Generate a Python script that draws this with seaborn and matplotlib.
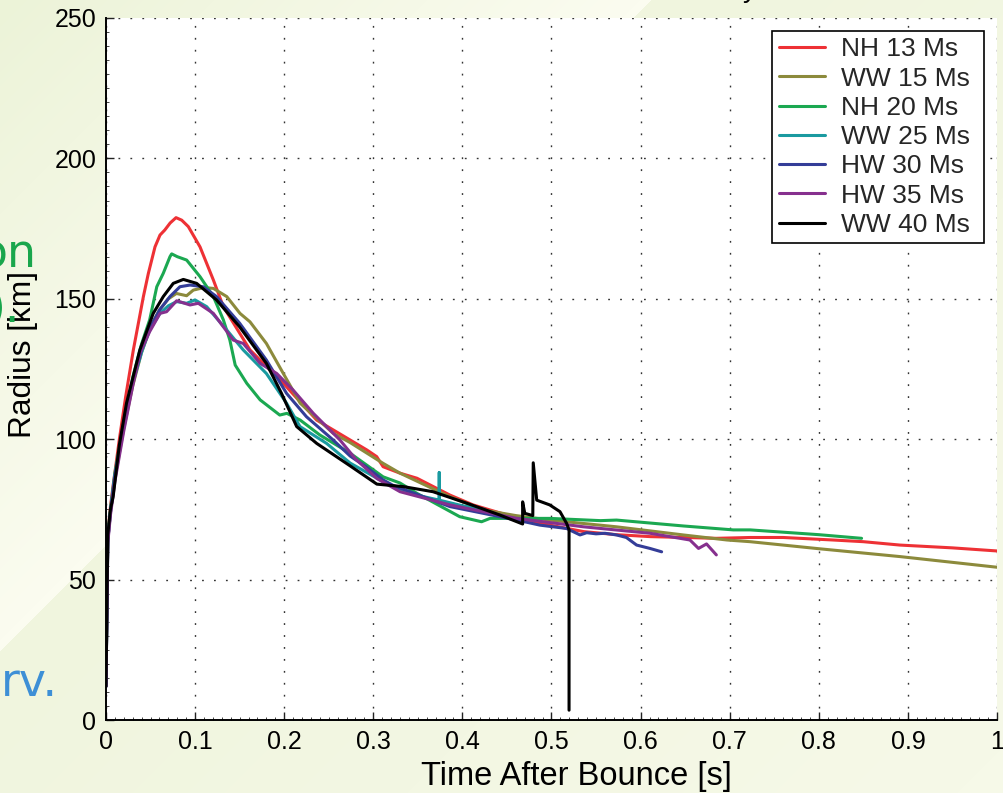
import numpy as np
import pandas as pd
import matplotlib
matplotlib.use("Agg")
import matplotlib.pyplot as plt
import seaborn as sns

# ---------------- data ----------------
names = ["NH 13 Ms", "WW 15 Ms", "NH 20 Ms", "WW 25 Ms", "HW 30 Ms", "HW 35 Ms", "WW 40 Ms"]
colors = ["#ee3135", "#8c8a3c", "#1ba851", "#1a9aa0", "#343d98", "#86308e", "#000000"]

t_nh13 = [0, 0.002, 0.005, 0.0082, 0.015, 0.022, 0.0307, 0.0419, 0.0475, 0.055, 0.0606, 0.066, 0.072, 0.0786,
          0.085, 0.0924, 0.1055, 0.1205, 0.1317, 0.1616, 0.199, 0.2365, 0.2926, 0.3038, 0.311, 0.33, 0.349,
          0.386, 0.412, 0.45, 0.498, 0.536, 0.573, 0.611, 0.65, 0.685, 0.723, 0.76, 0.816, 0.85, 0.891, 0.95, 1.0]
r_nh13 = [14, 66, 76, 84, 100, 115, 131.8, 150.7, 159, 168.5, 172.7, 174.5, 177, 178.9,
          178, 175.7, 168.5, 156.7, 147.2, 131.8, 119.9, 106.8, 96.2, 93.8, 90.2, 87.9, 86.1,
          80.1, 76.6, 73, 69.4, 67.1, 66, 65.3, 65, 64.7, 65, 65, 64.1, 63.5, 62.3, 61.3, 60.2]

t_ww15 = [0, 0.002, 0.005, 0.01, 0.02, 0.03, 0.04, 0.05, 0.06, 0.07, 0.079, 0.0905, 0.098, 0.11, 0.1205,
          0.1355, 0.1504, 0.1616, 0.18, 0.199, 0.218, 0.255, 0.274, 0.293, 0.311, 0.33, 0.386, 0.4235,
          0.46, 0.498, 0.573, 0.648, 0.697, 0.723, 0.8, 0.891, 1.0]
r_ww15 = [12, 64, 74, 86, 104, 119, 131, 140, 146, 150, 151.9, 151.1, 153.1, 154, 153.7,
          150.8, 144.8, 141.8, 134.1, 123.4, 112.8, 102.1, 98.8, 95, 91.4, 87.9, 79.5, 74.8,
          72.8, 71.2, 68.8, 65.9, 64.1, 63.5, 61, 58.2, 54.4]

t_nh20 = [0, 0.002, 0.005, 0.01, 0.02, 0.03, 0.04, 0.049, 0.057, 0.0643, 0.0718, 0.0737, 0.08, 0.0905,
          0.1055, 0.1205, 0.1317, 0.139, 0.145, 0.158, 0.173, 0.195, 0.203, 0.218, 0.24, 0.274, 0.311,
          0.33, 0.349, 0.397, 0.4215, 0.431, 0.498, 0.555, 0.573, 0.648, 0.704, 0.723, 0.8, 0.848]
r_nh20 = [13, 66, 75, 88, 106, 122, 134, 142.5, 154.3, 159.1, 165, 166, 165, 163.8,
          157.9, 150.8, 142.5, 135.3, 126.4, 119.9, 114, 108.6, 109.2, 106.8, 101.5, 95, 86.6,
          84.4, 80.7, 72.4, 70.6, 71.8, 71.8, 71, 71.2, 69.1, 67.7, 67.7, 66, 64.7]

t_ww25 = [0, 0.002, 0.005, 0.01, 0.02, 0.03, 0.04, 0.049, 0.0606, 0.07, 0.0793, 0.0905, 0.0999, 0.113,
          0.1355, 0.154, 0.18, 0.2027, 0.2177, 0.2476, 0.274, 0.3187, 0.35, 0.374, 0.374, 0.374, 0.4, 0.425]
r_ww25 = [12, 64, 74, 87, 105, 120, 131, 138.9, 144.8, 147.5, 149, 148.4, 149.6, 147.2,
          138.9, 131.8, 123.4, 112.8, 104.5, 98.5, 91.5, 83.5, 80, 78.3, 88.1, 78.3, 76.3, 75]

t_hw30 = [0, 0.002, 0.005, 0.01, 0.02, 0.03, 0.04, 0.05, 0.06, 0.0718, 0.083, 0.0943, 0.109, 0.124,
          0.15, 0.18, 0.2027, 0.225, 0.255, 0.274, 0.2926, 0.311, 0.3225, 0.386, 0.461, 0.487, 0.517,
          0.532, 0.5395, 0.55, 0.56, 0.573, 0.584, 0.5955, 0.6105, 0.6236]
r_hw30 = [12, 64, 74, 87, 105, 120, 132, 140, 146, 150.8, 154.3, 154.9, 154.3, 150.8,
          141.3, 128.2, 116.3, 108, 99.7, 94, 90, 85.5, 83.5, 76, 71.2, 69.4, 68.2,
          65.9, 66.7, 66.3, 66.5, 65.9, 65, 62.3, 61.1, 59.9]

t_hw35 = [0, 0.002, 0.005, 0.01, 0.02, 0.03, 0.038, 0.049, 0.0606, 0.068, 0.0793, 0.0943, 0.1036, 0.1205,
          0.1428, 0.154, 0.173, 0.1916, 0.21, 0.2327, 0.2626, 0.28, 0.304, 0.33, 0.386, 0.461, 0.536,
          0.6105, 0.6554, 0.665, 0.674, 0.685]
r_hw35 = [12, 63, 73, 85, 103, 119, 130.6, 138.3, 144.8, 145.4, 149.3, 147.8, 148.4, 144.8,
          135.3, 134.1, 127, 123.4, 117.5, 109.2, 99.7, 93, 86, 81.3, 76.6, 71.8, 68.8,
          66.5, 64.1, 61.1, 62.7, 58.8]

t_ww40 = [0, 0.002, 0.005, 0.008, 0.015, 0.023, 0.038, 0.053, 0.0643, 0.0755, 0.0868, 0.1017, 0.124,
          0.15, 0.18, 0.197, 0.214, 0.2365, 0.274, 0.304, 0.334, 0.367, 0.405, 0.442, 0.4676, 0.4676,
          0.470, 0.479, 0.4795, 0.4834, 0.498, 0.5095, 0.517, 0.5197, 0.5197]
r_ww40 = [12, 66, 75, 79.5, 98, 112.8, 131.8, 144.8, 150.8, 155.5, 156.9, 155.5, 149.6,
          140, 127, 116.3, 104.5, 98.5, 90.5, 84, 83.1, 81.3, 77.2, 73, 69.8, 77.7,
          73.6, 72.8, 91.6, 78.3, 76.6, 74.2, 70, 67.7, 3.5]

x_ticks = [0, 0.1, 0.2, 0.3, 0.4, 0.5, 0.6, 0.7, 0.8, 0.9, 1.0]
x_ticklabels = ["0", "0.1", "0.2", "0.3", "0.4", "0.5", "0.6", "0.7", "0.8", "0.9", "1"]
y_ticks = [0, 50, 100, 150, 200, 250]
y_ticklabels = ["0", "50", "100", "150", "200", "250"]

series_t = [t_nh13, t_ww15, t_nh20, t_ww25, t_hw30, t_hw35, t_ww40]
series_r = [r_nh13, r_ww15, r_nh20, r_ww25, r_hw30, r_hw35, r_ww40]

frames = []
for n, tt, rr in zip(names, series_t, series_r):
    frames.append(pd.DataFrame({"t": tt, "r": rr, "model": n, "order": np.arange(len(tt))}))
df = pd.concat(frames, ignore_index=True)

# ---------------- figure ----------------
sns.set_theme(style="white")
plt.rcParams["font.family"] = ["Liberation Sans", "DejaVu Sans"]

W, H = 1004, 793
fig = plt.figure(figsize=(W / 100, H / 100), dpi=100)

# slide background gradient
bg = fig.add_axes([0, 0, 1, 1], zorder=-5)
yy, xx = np.mgrid[0:H, 0:W]
s = xx + yy
dark = np.array([236, 243, 216]) / 255.0
light = np.array([251, 252, 240]) / 255.0
mid = np.array([240, 245, 222]) / 255.0
f1 = np.clip(s / 640.0, 0, 1)[..., None]
img = dark * (1 - f1) + light * f1
f2 = np.clip((s - 650) / 1100.0, 0, 1)[..., None]
img2 = mid * (1 - f2) + np.array([246, 249, 232]) / 255.0 * f2
img = np.where((s > 650)[..., None], img2, img)
bg.imshow(img, aspect="auto", extent=[0, 1, 0, 1], origin="upper")
bg.set_axis_off()

# slide text fragments at left edge
fig.text(36 / W, 1 - 268 / H, "on", color="#19a64c", fontsize=33, ha="right", va="baseline",
         family=["DejaVu Sans"])
fig.text(20 / W, 1 - 322 / H, ").", color="#19a64c", fontsize=33, ha="right", va="baseline",
         family=["DejaVu Sans"])
fig.text(58 / W, 1 - 696 / H, "rv.", color="#3d8fd6", fontsize=33, ha="right", va="baseline",
         family=["DejaVu Sans"])
fig.text(757 / W, 1 + 3 / H, "y", color="black", fontsize=20, ha="right", va="baseline")

ax = fig.add_axes([106 / W, 1 - 720 / H, 891 / W, 702 / H])
ax.set_facecolor("white")

for n, c in zip(names, colors):
    sub = df[df["model"] == n]
    sns.lineplot(data=sub, x="t", y="r", color=c, lw=2.2, sort=False, estimator=None,
                 ax=ax, label=n, legend=False)

ax.set_xlim(0, 1)
ax.set_ylim(0, 250)
ax.set_xticks(x_ticks)
ax.set_xticklabels(x_ticklabels)
ax.set_yticks(y_ticks)
ax.set_yticklabels(y_ticklabels)
ax.set_xticks(np.arange(0, 1.0001, 0.01), minor=True)
ax.set_yticks(np.arange(0, 250.001, 5), minor=True)

ax.grid(True, which="major", color="#333333", linestyle=(0, (1.3, 7.3)), linewidth=1.0)
ax.tick_params(which="major", direction="in", length=6, width=1, color="#222222",
               labelsize=18, pad=7, labelcolor="black")
ax.tick_params(which="minor", direction="in", length=2.2, width=0.7, color="#444444")
ax.tick_params(axis="x", which="both", top=False, bottom=True)
ax.tick_params(axis="y", which="both", right=False, left=True)

for side in ["top", "right"]:
    ax.spines[side].set_visible(False)
for side in ["left", "bottom"]:
    ax.spines[side].set_visible(True)
    ax.spines[side].set_color("black")
    ax.spines[side].set_linewidth(1.4)

ax.set_xlabel("Time After Bounce [s]", fontsize=23.5, color="black")
ax.set_ylabel("Radius [km]", fontsize=22.8, color="black")
ax.xaxis.set_label_coords(0.5275, -0.058)
ax.yaxis.set_label_coords(-0.076, 0.52)

handles = ax.get_lines()[: len(names)]
leg_labels = [n + " " for n in names]
leg = ax.legend(handles, leg_labels, loc="upper right", bbox_to_anchor=(0.9854, 0.982),
                borderaxespad=0, fontsize=19, frameon=True, fancybox=False,
                handlelength=1.75, handletextpad=0.6, labelspacing=0.2, borderpad=0.25)
leg.get_frame().set_edgecolor("black")
leg.get_frame().set_linewidth(1.2)
leg.get_frame().set_facecolor("white")
leg.get_frame().set_alpha(1)

fig.savefig("out.png", dpi=100)
